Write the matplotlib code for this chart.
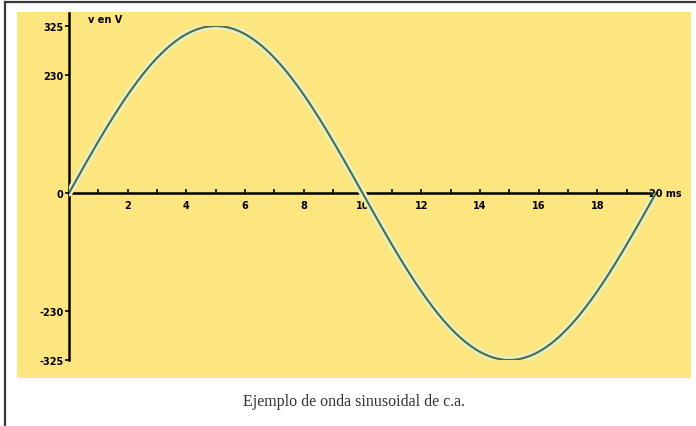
import numpy as np
import matplotlib.pyplot as plt
from matplotlib.patches import Rectangle
from matplotlib.lines import Line2D

# waveform parameters (mains voltage, 50 Hz)
peak_v = 325
rms_v = 230
period_ms = 20

t_ms = np.linspace(0, period_ms, 400)
v = peak_v * np.sin(2 * np.pi * t_ms / period_ms)

x_ticks = [2, 4, 6, 8, 10, 12, 14, 16, 18]
x_minor = [1, 3, 5, 7, 9, 11, 13, 15, 17, 19]
y_ticks = [peak_v, rms_v, 0, -rms_v, -peak_v]
y_labels = ["325", "230", "0", "-230", "-325"]
caption = "Ejemplo de onda sinusoidal de c.a."

W, H = 696, 427
fig = plt.figure(figsize=(W / 100, H / 100), dpi=100)
fig.patch.set_facecolor("white")

# frame around the figure (only top and left visible)
fig.add_artist(Line2D([5 / W, 5 / W], [0, 1 - 3 / H], color="#3a3a3a", lw=1.6))
fig.add_artist(Line2D([5 / W, 1], [1 - 3 / H, 1 - 3 / H], color="#3a3a3a", lw=1.6))

# yellow panel behind the plot
fig.add_artist(Rectangle((17 / W, 1 - 379 / H), (691 - 17) / W, (379 - 13) / H,
                         transform=fig.transFigure, facecolor="#fde680",
                         edgecolor="none", zorder=0))

ax = fig.add_axes([69 / W, 1 - 361 / H, (656 - 69) / W, (361 - 27) / H])
ax.patch.set_alpha(0)
ax.set_xlim(0, period_ms)
ax.set_ylim(-peak_v, peak_v)

# pale halo + dark green core for the sine wave
ax.plot(t_ms, v, color="#e4f0c6", lw=5, solid_capstyle="round", zorder=3)
ax.plot(t_ms, v, color="#4d6b45", lw=1.5, zorder=4)

for side in ["top", "right"]:
    ax.spines[side].set_visible(False)
ax.spines["left"].set_position(("data", 0))
ax.spines["bottom"].set_position(("data", 0))
ax.spines["left"].set_linewidth(1.8)
ax.spines["bottom"].set_linewidth(1.8)
ax.spines["left"].set_bounds(-peak_v, peak_v + 26)
ax.spines["bottom"].set_bounds(0, period_ms)

ax.set_yticks(y_ticks)
ax.set_yticklabels(y_labels, fontsize=7, fontweight="bold")
ax.tick_params(axis="y", direction="out", length=3, width=1.2, pad=1)

ax.set_xticks(x_ticks)
ax.set_xticklabels([str(t) for t in x_ticks], fontsize=7, fontweight="bold")
ax.set_xticks(x_minor, minor=True)
ax.tick_params(axis="x", which="major", direction="in", length=3, width=1.2, pad=5)
ax.tick_params(axis="x", which="minor", direction="in", length=3, width=1.2)

ax.text(19.75, 0, "20 ms", fontsize=7, fontweight="bold", ha="left", va="center",
        clip_on=False)
ax.text(0.65, 338, "v en V", fontsize=7, fontweight="bold", ha="left", va="center",
        clip_on=False)

fig.text(354 / W, 1 - 402 / H, caption, ha="center", va="center",
         fontsize=11.5, family="Liberation Serif", color="#333333")

fig.savefig("out.png", dpi=100)
